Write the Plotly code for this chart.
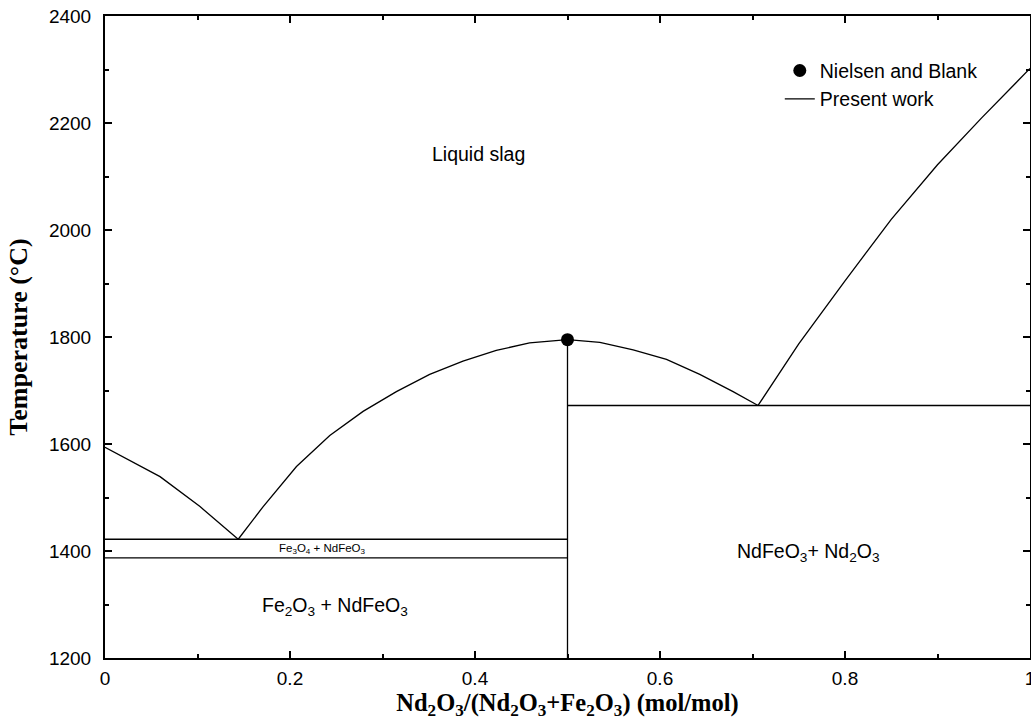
import plotly.graph_objects as go

# ---- data ----
liq_left_x = [0.0, 0.0595, 0.1027, 0.144]
liq_left_t = [1594, 1539, 1483, 1422]

liq_mid_x = [0.144, 0.171, 0.207, 0.243, 0.279, 0.315, 0.351, 0.387, 0.423, 0.459, 0.5,
             0.535, 0.571, 0.607, 0.643, 0.679, 0.706]
liq_mid_t = [1422, 1483, 1558, 1616, 1661, 1698, 1730, 1755, 1775, 1789, 1795,
             1790, 1776, 1758, 1730, 1698, 1672]

liq_right_x = [0.706, 0.75, 0.80, 0.85, 0.90, 0.948, 1.0]
liq_right_t = [1672, 1787, 1905, 2020, 2122, 2210, 2302]

eut1_x = [0.0, 0.5]
eut1_t = [1422, 1422]
trans_x = [0.0, 0.5]
trans_t = [1387, 1387]
comp_x = [0.5, 0.5]
comp_t = [1200, 1795]
eut2_x = [0.5, 1.0]
eut2_t = [1672, 1672]

exp_x = [0.5]
exp_t = [1795]

segments = [(liq_left_x, liq_left_t), (liq_mid_x, liq_mid_t), (liq_right_x, liq_right_t),
            (eut1_x, eut1_t), (trans_x, trans_t), (comp_x, comp_t), (eut2_x, eut2_t)]

line_x, line_t = [], []
for sx, st in segments:
    line_x += list(sx) + [None]
    line_t += list(st) + [None]

sans = "Arial, Liberation Sans, sans-serif"
serif = "Times New Roman, Liberation Serif, serif"

fig = go.Figure()
fig.add_trace(go.Scatter(x=exp_x, y=exp_t, mode="markers", name="Nielsen and Blank",
                         marker=dict(color="black", size=13, symbol="circle")))
fig.add_trace(go.Scatter(x=line_x, y=line_t, mode="lines", name="Present work",
                         line=dict(color="black", width=1.3)))

labels = [
    (0.404, 2142, "Liquid slag", 19.5),
    (0.235, 1404, "Fe<sub>3</sub>O<sub>4</sub> + NdFeO<sub>3</sub>", 11.5),
    (0.249, 1297, "Fe<sub>2</sub>O<sub>3</sub> + NdFeO<sub>3</sub>", 19.5),
    (0.760, 1397, "NdFeO<sub>3</sub>+ Nd<sub>2</sub>O<sub>3</sub>", 19.5),
]
for lx, ly, txt, fs in labels:
    fig.add_annotation(x=lx, y=ly, text=txt, showarrow=False,
                       font=dict(family=sans, size=fs, color="black"))

axis_common = dict(showgrid=False, zeroline=False, showline=True, linecolor="black",
                   linewidth=2, ticks="inside", ticklen=7, tickwidth=2, tickcolor="black",
                   mirror="ticks", ticklabeloverflow="allow", automargin=False,
                   tickfont=dict(family=sans, size=19, color="black"),
                   minor=dict(ticks="inside", ticklen=4, tickwidth=1.5, tickcolor="black"))

fig.update_xaxes(range=[0, 1], tickvals=[0, 0.2, 0.4, 0.6, 0.8, 1.0],
                 ticktext=["0", "0.2", "0.4", "0.6", "0.8", "1"],
                 ticklabelstandoff=2,
                 title=dict(text="<b>Nd<sub>2</sub>O<sub>3</sub>/(Nd<sub>2</sub>O<sub>3</sub>+Fe<sub>2</sub>O<sub>3</sub>) (mol/mol)</b>",
                            font=dict(family=serif, size=24.5, color="black"), standoff=3),
                 **axis_common)
fig.update_xaxes(minor=dict(tickvals=[0.1, 0.3, 0.5, 0.7, 0.9]))
fig.update_yaxes(range=[1200, 2400], tickvals=[1200, 1400, 1600, 1800, 2000, 2200, 2400],
                 ticklabelstandoff=8,
                 title=dict(text="<b>Temperature (°C)</b>",
                            font=dict(family=serif, size=26, color="black"), standoff=14),
                 **axis_common)
fig.update_yaxes(minor=dict(tickvals=[1300, 1500, 1700, 1900, 2100, 2300]))

fig.update_layout(
    width=1031, height=723, autosize=False,
    margin=dict(l=105, r=1, t=16, b=65),
    paper_bgcolor="white", plot_bgcolor="white",
    legend=dict(x=0.7295, y=0.945, xanchor="left", yanchor="top",
                font=dict(family=sans, size=19.5, color="black"),
                bgcolor="rgba(0,0,0,0)", itemwidth=30, tracegroupgap=0),
)

fig.write_html("out.html",
               config={"displayModeBar": False, "responsive": False},
               post_script="document.body.style.margin='0';document.body.style.overflow='hidden';")
